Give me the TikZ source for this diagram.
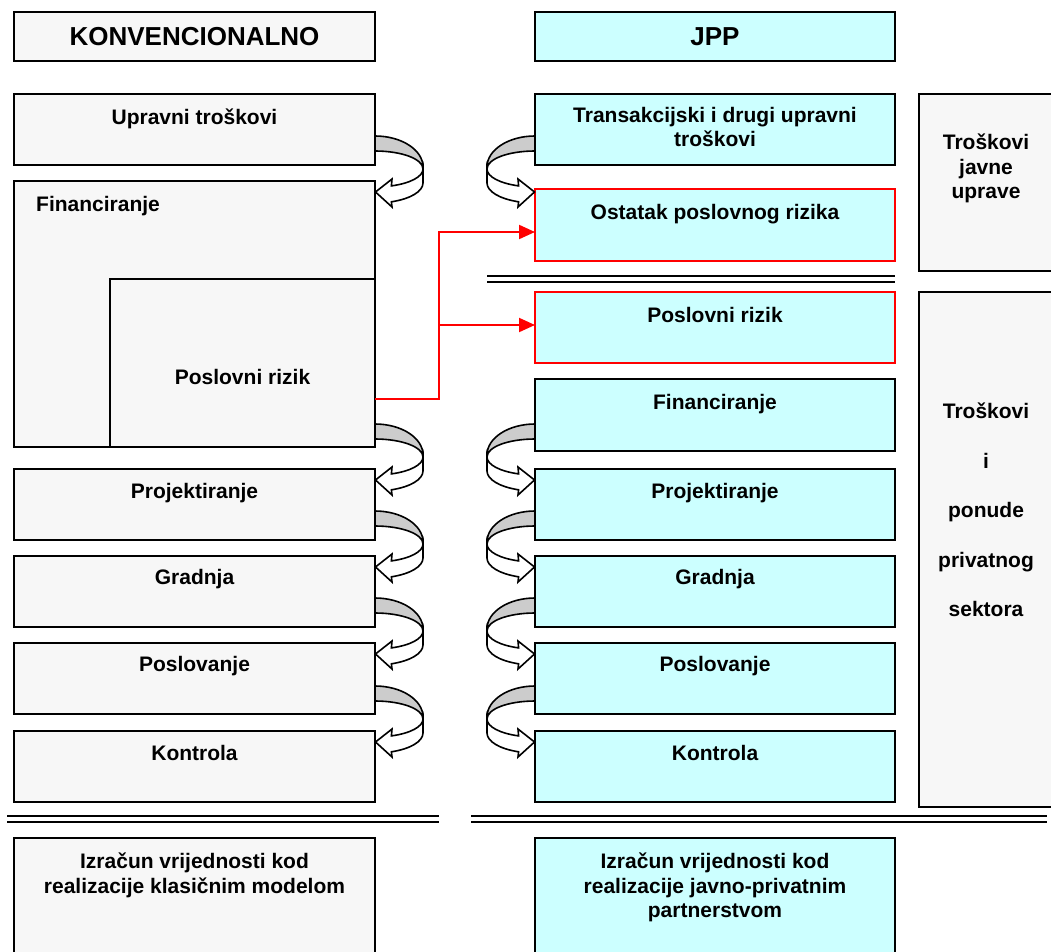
\documentclass[tikz,border=0pt]{standalone}
\usepackage{fontspec}
\setmainfont{Liberation Sans}
\usetikzlibrary{calc,arrows.meta}
\definecolor{boxgray}{HTML}{F7F7F7}
\definecolor{boxcyan}{HTML}{CCFFFF}
\definecolor{bandgray}{HTML}{CCCCCC}

\tikzset{
  box/.style={draw=black, line width=1.6pt, outer sep=0pt, inner sep=0pt, anchor=north west},
  lbox/.style={box, fill=boxgray},
  rbox/.style={box, fill=boxcyan},
  riskbox/.style={rbox, draw=red},
  lab/.style={anchor=north, inner sep=0pt, align=center,
    font=\fontsize{21}{24.5}\selectfont\bfseries},
  head/.style={font=\fontsize{26}{30}\selectfont\bfseries},
  riskline/.style={draw=red, line width=2pt, -{Triangle[length=16pt,width=14pt]}},
  rule/.style={line width=2.4pt},
  % curved 3-D ribbon arrow: grey inner band on top, white front band with head
  curv/.pic={
    \draw[line width=1.6pt, fill=bandgray, line join=round]
      (0,0) .. controls (26.5,0) and (48,13.9) .. (48,31) -- (48,33)
      .. controls (48,22.9) and (26.5,15) .. (0,15) -- cycle;
    \draw[line width=1.6pt, fill=white, line join=miter]
      (48,33) .. controls (48,40.6) and (35.4,47.3) .. (16.4,49.9)
      -- (17,43) -- (0.5,56) -- (17,71) -- (16.4,65.8)
      .. controls (35.4,62.9) and (48,55.4) .. (48,47) -- cycle;
  }
}

\begin{document}
\begin{tikzpicture}[x=1pt, y=-1pt]
\useasboundingbox (0,0) rectangle (1051,952);
\clip (0,0) rectangle (1051,952);

% column headings
\node[lbox, minimum width=361pt, minimum height=49pt, head] (hK) at (14,12) {KONVENCIONALNO};
\node[rbox, minimum width=360pt, minimum height=49pt, head] (hJ) at (535,12) {JPP};

% conventional column
\node[lbox, minimum width=361pt, minimum height=71pt,
  label={[lab, yshift=-15pt]north:Upravni troškovi}] (lUp) at (14,94) {};
\node[lbox, minimum width=361pt, minimum height=266pt,
  label={[lab, anchor=north west, xshift=22pt, yshift=-15pt]north west:Financiranje}] (lFin) at (14,181) {};
\node[lbox, minimum width=265pt, minimum height=168pt,
  label={[lab, anchor=center, yshift=-14pt]center:Poslovni rizik}] (lRiz) at (110,279) {};
\node[lbox, minimum width=361pt, minimum height=71pt,
  label={[lab, yshift=-14pt]north:Projektiranje}] (lPro) at (14,469) {};
\node[lbox, minimum width=361pt, minimum height=71pt,
  label={[lab, yshift=-13pt]north:Gradnja}] (lGra) at (14,556) {};
\node[lbox, minimum width=361pt, minimum height=71pt,
  label={[lab, yshift=-13pt]north:Poslovanje}] (lPos) at (14,643) {};
\node[lbox, minimum width=361pt, minimum height=71pt,
  label={[lab, yshift=-14pt]north:Kontrola}] (lKon) at (14,731) {};
\node[lbox, minimum width=361pt, minimum height=140pt,
  label={[lab, yshift=-15pt]north:Izračun vrijednosti kod\\realizacije klasičnim modelom}] (lIzr) at (14,838) {};

% PPP column
\node[rbox, minimum width=360pt, minimum height=71pt,
  label={[lab, yshift=-13pt]north:Transakcijski i drugi upravni\\troškovi}] (rTr) at (535,94) {};
\node[riskbox, minimum width=360pt, minimum height=72pt,
  label={[lab, yshift=-15pt]north:Ostatak poslovnog rizika}] (rOst) at (535,189) {};
\node[riskbox, minimum width=360pt, minimum height=71pt,
  label={[lab, yshift=-15pt]north:Poslovni rizik}] (rRiz) at (535,292) {};
\node[rbox, minimum width=360pt, minimum height=72pt,
  label={[lab, yshift=-15pt]north:Financiranje}] (rFin) at (535,379) {};
\node[rbox, minimum width=360pt, minimum height=71pt,
  label={[lab, yshift=-14pt]north:Projektiranje}] (rPro) at (535,469) {};
\node[rbox, minimum width=360pt, minimum height=71pt,
  label={[lab, yshift=-13pt]north:Gradnja}] (rGra) at (535,556) {};
\node[rbox, minimum width=360pt, minimum height=71pt,
  label={[lab, yshift=-13pt]north:Poslovanje}] (rPos) at (535,643) {};
\node[rbox, minimum width=360pt, minimum height=71pt,
  label={[lab, yshift=-14pt]north:Kontrola}] (rKon) at (535,731) {};
\node[rbox, minimum width=360pt, minimum height=140pt,
  label={[lab, yshift=-15pt]north:Izračun vrijednosti kod\\realizacije javno-privatnim\\partnerstvom}] (rIzr) at (535,838) {};

% cost groups
\node[lbox, minimum width=134pt, minimum height=177pt,
  label={[lab, yshift=-40pt]north:Troškovi\\javne\\uprave}] (fJav) at (919,94) {};
\node[lbox, minimum width=134pt, minimum height=515pt,
  label={[lab, yshift=-111pt, font=\fontsize{21}{49.5}\selectfont\bfseries]north:Troškovi\\i\\ponude\\privatnog\\sektora}] (fPri) at (919,292) {};

% separating double rules
\draw[rule] (487,276) -- (895,276) (487,282) -- (895,282);
\draw[rule] (7,816) -- (439,816) (7,822) -- (439,822);
\draw[rule] (471,816) -- (1047,816) (471,822) -- (1047,822);

% risk transfer
\coordinate (rj) at ($(lRiz.south east)+(64,-48)$);
\coordinate (rjOst) at ($(rOst.west)+(0,7)$);
\coordinate (rjRiz) at ($(rRiz.west)+(0,-2.5)$);
\draw[riskline] ($(lRiz.south east)+(0,-48)$) -- (rj) |- (rjOst);
\draw[riskline] (rj |- rjRiz) -- (rjRiz);

% curved arrows, conventional side
\pic at ($(lFin.north east)+(0,-45)$) {curv};
\pic at ($(lPro.north east)+(0,-45)$) {curv};
\pic at ($(lGra.north east)+(0,-45)$) {curv};
\pic at ($(lPos.north east)+(0,-45)$) {curv};
\pic at ($(lKon.north east)+(0,-45)$) {curv};

% curved arrows, PPP side
\pic[xscale=-1] at ($(rOst.north west)+(0,-53)$) {curv};
\pic[xscale=-1] at ($(rPro.north west)+(0,-45)$) {curv};
\pic[xscale=-1] at ($(rGra.north west)+(0,-45)$) {curv};
\pic[xscale=-1] at ($(rPos.north west)+(0,-45)$) {curv};
\pic[xscale=-1] at ($(rKon.north west)+(0,-45)$) {curv};
\end{tikzpicture}
\end{document}
